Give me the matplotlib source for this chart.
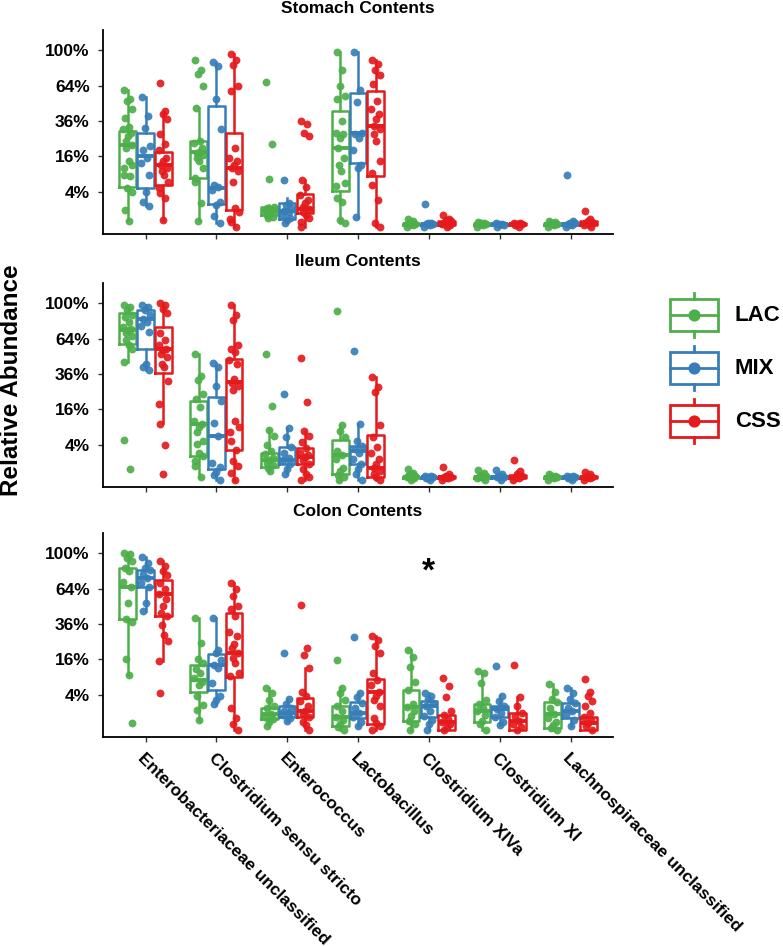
import numpy as np
import matplotlib
matplotlib.use("Agg")
import matplotlib.pyplot as plt
from matplotlib.patches import Rectangle

plt.rcParams['font.family'] = ['Liberation Sans', 'DejaVu Sans']
plt.rcParams['font.weight'] = 'bold'

taxa = ['Enterobacteriaceae unclassified', 'Clostridium sensu stricto', 'Enterococcus',
        'Lactobacillus', 'Clostridium XIVa', 'Clostridium XI', 'Lachnospiraceae unclassified']
groups = ['LAC', 'MIX', 'CSS']
colors = ['#4DAF4A', '#377EB8', '#E41A1C']
panels = ['Stomach Contents', 'Ileum Contents', 'Colon Contents']
yticks = [4, 16, 36, 64, 100]
ytick_labels = ['4%', '16%', '36%', '64%', '100%']

# relative abundance (%) per sample, one list per taxon
stomach_lac = [
    [60.1, 52.4, 51.0, 44.4, 38.3, 32.0, 30.5, 28.4, 26.4, 23.6, 21.4, 20.0, 13.8, 12.4, 11.1, 8.7, 8.2, 4.8, 4.0, 0.9, 0.1],
    [88.9, 78.5, 74.5, 64.0, 45.2, 23.6, 22.7, 20.0, 18.0, 17.6, 16.8, 15.3, 13.8, 11.1, 7.6, 6.6, 1.8, 0.1],
    [67.1, 22.1, 7.4, 1.3, 1.1, 0.9, 0.8, 0.7, 0.6, 0.44, 0.33, 0.23],
    [98, 78.5, 64, 55.2, 52.4, 36, 28.4, 27.4, 25.5, 20.0, 15.3, 12.4, 9.9, 6.1, 5.5, 2.6, 2.0, 0.15, 0.04],
    [0.2, 0.1, 0.05, 0.03, 0.02, 0.01, 0.0],
    [0.08, 0.06, 0.04, 0.03, 0.02, 0.01, 0.0],
    [0.1, 0.07, 0.05, 0.03, 0.02, 0.01, 0.0],
]
stomach_mix = [
    [53.8, 39.5, 31.6, 20.9, 19.2, 15.3, 13.1, 8.7, 4.0, 2.0, 1.4],
    [87.1, 82.6, 52.4, 30.5, 5.7, 5.2, 4.4, 2.0, 1.5, 0.4, 0.04],
    [7.1, 1.8, 1.5, 1.1, 0.8, 0.67, 0.44, 0.26, 0.15, 0.04],
    [98, 60.1, 49.7, 28.4, 27.4, 25.5, 19.2, 12.4, 11.1, 0.33],
    [1.7, 0.06, 0.04, 0.03, 0.02, 0.01, 0.0],
    [0.04, 0.03, 0.02, 0.01, 0.0],
    [8.7, 0.1, 0.06, 0.04, 0.02, 0.01, 0.0],
]
stomach_css = [
    [66.1, 43.2, 40.7, 37.2, 27.8, 21.8, 19.2, 15.3, 13.8, 12.4, 11.1, 9.9, 8.7, 6.6, 4.8, 3.6, 2.6, 0.15],
    [96.2, 88.9, 83.6, 64.0, 59.5, 20.0, 15.3, 13.8, 12.4, 11.1, 9.9, 6.6, 1.1, 0.7, 0.2, 0.08, 0.0],
    [36.0, 34.2, 28.4, 26.4, 7.1, 5.2, 3.3, 2.3, 1.8, 1.3, 1.0, 0.7, 0.44, 0.23, 0.08, 0.0],
    [89.6, 85.3, 78.5, 73.5, 65.5, 51.0, 44.4, 40.7, 37.2, 32.7, 30.5, 27.4, 23.6, 13.8, 9.3, 5.7, 2.3, 0.04, 0.0],
    [0.44, 0.2, 0.15, 0.1, 0.05, 0.03, 0.02, 0.01, 0.0],
    [0.06, 0.04, 0.03, 0.02, 0.01, 0.0],
    [0.84, 0.2, 0.12, 0.08, 0.05, 0.03, 0.01, 0.0],
]
ileum_lac = [
    [98, 95.5, 92.5, 87.2, 85.4, 80.2, 75.2, 72.6, 71.9, 69.4, 66.3, 62.6, 58.2, 55.3, 44.6, 5.1, 0.37],
    [50.6, 34.4, 31.8, 23.8, 21.1, 16.9, 11.3, 10.0, 8.9, 7.3, 4.9, 4.1, 2.4, 1.9, 1.2, 0.64, 0.02],
    [50.6, 17.7, 8.1, 6.3, 4.0, 2.7, 2.1, 1.6, 1.25, 0.97, 0.73, 0.49, 0.26],
    [91.8, 9.5, 7.8, 5.8, 2.7, 2.0, 1.4, 0.49, 0.26, 0.08, 0.03, 0.0],
    [0.37, 0.17, 0.1, 0.06, 0.04, 0.03, 0.02, 0.01, 0.0],
    [0.3, 0.15, 0.08, 0.05, 0.03, 0.02, 0.01, 0.0],
    [0.1, 0.06, 0.04, 0.03, 0.02, 0.01, 0.0],
]
ileum_mix = [
    [98, 96.2, 92.5, 87.2, 83.0, 80.2, 75.9, 70.3, 43.3, 40.9, 38.5],
    [43.9, 40.9, 28.0, 19.9, 10.3, 6.3, 0.97, 0.55, 0.22, 0.08, 0.0],
    [23.8, 8.6, 5.8, 3.4, 2.4, 1.6, 1.25, 0.8, 0.37, 0.13],
    [53.4, 10.0, 4.9, 3.7, 3.0, 2.4, 1.4, 0.8, 0.37, 0.1, 0.0],
    [0.06, 0.04, 0.03, 0.02, 0.01, 0.0],
    [0.3, 0.1, 0.05, 0.03, 0.02, 0.0],
    [0.06, 0.04, 0.03, 0.02, 0.01, 0.0],
]
ileum_css = [
    [100, 98, 93.3, 88.9, 68.8, 62.6, 58.2, 55.3, 53.9, 51.2, 48.5, 43.3, 40.9, 31.3, 18.6, 10.0, 4.0, 0.13],
    [98, 87.2, 81.9, 58.2, 55.3, 52.5, 46.4, 43.3, 32.8, 30.0, 28.0, 26.1, 11.3, 8.9, 7.3, 4.8, 2.9, 1.2, 0.64, 0.17, 0.0],
    [48.0, 19.4, 7.8, 6.3, 4.5, 3.2, 2.4, 2.0, 1.7, 1.25, 0.8, 0.37, 0.13, 0.03, 0.0],
    [34.0, 27.6, 24.7, 9.5, 5.8, 3.4, 2.4, 1.4, 0.8, 0.49, 0.26, 0.1, 0.03, 0.0],
    [0.55, 0.1, 0.05, 0.03, 0.02, 0.01, 0.0],
    [1.25, 0.26, 0.1, 0.05, 0.03, 0.01, 0.0],
    [0.22, 0.1, 0.05, 0.03, 0.02, 0.01, 0.0],
]
colon_lac = [
    [100, 98.8, 95.1, 91.5, 84.4, 80.9, 70.1, 65.7, 51.8, 39.1, 37.2, 16.1, 9.8, 0.17],
    [39.8, 24.2, 16.1, 14.3, 11.9, 10.4, 8.6, 7.5, 6.5, 3.6, 2.0, 1.3, 0.32],
    [5.6, 4.3, 2.9, 1.8, 1.5, 0.83, 0.57, 0.37, 0.2, 0.05],
    [15.5, 5.6, 4.3, 2.9, 1.8, 1.1, 0.57, 0.32, 0.12, 0.02, 0.0],
    [20.3, 17.0, 12.7, 7.5, 5.0, 2.2, 1.66, 1.1, 0.6, 0.28, 0.1, 0.0],
    [11.0, 10.4, 7.2, 2.9, 2.2, 1.6, 1.1, 0.73, 0.28, 0.1, 0.0],
    [6.8, 4.5, 3.0, 2.5, 1.5, 0.83, 0.44, 0.22, 0.08, 0.01, 0.0],
]
colon_mix = [
    [96.2, 89.7, 84.4, 81.9, 77.6, 73.6, 69.4, 65.7, 51.8, 45.2],
    [39.8, 20.7, 19.0, 15.8, 13.4, 12.3, 7.0, 3.6, 2.9, 2.2],
    [19.0, 3.0, 2.2, 1.5, 1.2, 0.97, 0.75, 0.44, 0.28],
    [27.7, 4.3, 3.5, 2.3, 1.5, 0.9, 0.57, 0.22, 0.04],
    [4.3, 3.6, 3.0, 2.3, 1.9, 1.1, 0.6, 0.32, 0.1, 0.0],
    [13.2, 3.6, 2.6, 1.8, 1.4, 0.9, 0.52, 0.22, 0.08],
    [5.6, 4.3, 3.0, 2.4, 1.6, 1.2, 0.7, 0.32, 0.04],
]
colon_css = [
    [91.5, 86.1, 80.9, 76.6, 69.4, 63.3, 58.8, 54.6, 49.1, 43.9, 41.5, 35.6, 29.1, 25.2, 15.1, 4.3],
    [69.4, 63.9, 57.4, 49.6, 46.5, 41.5, 30.6, 28.1, 23.9, 21.5, 19.0, 16.6, 14.3, 10.4, 9.2, 1.5, 0.44, 0.12, 0.0],
    [50.4, 21.5, 18.2, 12.3, 4.5, 3.7, 2.6, 1.8, 1.2, 0.8, 0.52, 0.2, 0.08, 0.0],
    [28.5, 26.1, 22.4, 19.0, 10.4, 8.1, 6.5, 4.6, 3.7, 2.9, 1.8, 0.44, 0.17, 0.04, 0.0],
    [8.6, 6.1, 3.4, 1.2, 0.73, 0.4, 0.22, 0.12, 0.03, 0.0],
    [13.6, 3.4, 1.9, 0.9, 0.6, 0.28, 0.12, 0.02, 0.0],
    [8.3, 4.7, 3.7, 2.6, 1.9, 0.9, 0.52, 0.3, 0.17, 0.05, 0.0],
]

# box summaries (whisker low, q1, median, q3, whisker high)
stomach_lac_box = [(0.1, 5.2, 21.4, 29.5, 60.1), (0.1, 7.6, 18.0, 23.6, 45.2), (0.23, 0.44, 0.8, 1.3, 1.6),
                   (0.04, 4.2, 20.0, 43.2, 98), (0, 0.01, 0.03, 0.05, 0.1), (0, 0.01, 0.03, 0.05, 0.08),
                   (0, 0.01, 0.03, 0.05, 0.1)]
stomach_mix_box = [(1.4, 4.8, 16.0, 28.4, 53.8), (0.04, 1.7, 4.8, 47.0, 87.1), (0.04, 0.19, 0.8, 1.8, 2.6),
                   (0.33, 13.1, 28.4, 57.2, 98), (0, 0.01, 0.02, 0.04, 0.06), (0, 0.01, 0.02, 0.03, 0.04),
                   (0, 0.01, 0.03, 0.05, 0.1)]
stomach_css_box = [(0.15, 5.7, 12.4, 17.9, 43.2), (0, 0.9, 11.1, 28.0, 96.2), (0, 0.58, 1.0, 3.4, 7.1),
                   (0, 8.2, 32.7, 59.5, 89.6), (0, 0.01, 0.03, 0.1, 0.2), (0, 0.01, 0.02, 0.04, 0.06),
                   (0, 0.01, 0.04, 0.1, 0.2)]
ileum_lac_box = [(44.6, 58.8, 71.9, 88.9, 98), (0.02, 1.9, 10.0, 20.2, 50.6), (0.26, 0.55, 1.25, 2.4, 8.1),
                 (0, 0.13, 2.0, 5.1, 9.5), (0, 0.01, 0.03, 0.06, 0.17), (0, 0.01, 0.03, 0.06, 0.15),
                 (0, 0.01, 0.02, 0.04, 0.08)]
ileum_mix_box = [(38.5, 54.8, 83.0, 92.5, 98), (0, 0.37, 6.3, 22.0, 43.9), (0.13, 0.8, 1.25, 3.5, 8.6),
                 (0, 0.8, 2.7, 3.7, 10.0), (0, 0.01, 0.02, 0.03, 0.06), (0, 0.01, 0.03, 0.05, 0.1),
                 (0, 0.01, 0.02, 0.03, 0.06)]
ileum_css_box = [(10.3, 36.6, 54.8, 74.5, 100), (0, 2.9, 30.7, 47.2, 98), (0, 0.8, 1.7, 3.2, 7.8),
                 (0, 0.03, 0.49, 6.5, 34.0), (0, 0.01, 0.02, 0.05, 0.1), (0, 0.01, 0.03, 0.08, 0.26),
                 (0, 0.01, 0.03, 0.06, 0.12)]
colon_lac_box = [(9.8, 39.1, 65.7, 84.4, 100), (0.32, 4.5, 8.1, 13.4, 39.8), (0.05, 0.37, 0.83, 1.5, 5.6),
                 (0, 0.05, 0.57, 1.8, 5.6), (0, 0.28, 1.66, 5.0, 20.3), (0, 0.22, 1.1, 2.2, 10.4),
                 (0, 0.01, 0.83, 2.5, 6.8)]
colon_mix_box = [(45.2, 65.7, 73.6, 81.9, 96.2), (2.2, 5.2, 13.4, 18.5, 39.8), (0.28, 0.57, 0.97, 1.8, 3.0),
                 (0.04, 0.44, 0.9, 2.5, 4.3), (0, 0.57, 1.9, 2.7, 4.3), (0.08, 0.52, 1.4, 1.8, 3.6),
                 (0.04, 0.44, 1.2, 2.4, 5.6)]
colon_css_box = [(15.1, 41.5, 58.8, 72.0, 91.5), (0, 9.0, 19.0, 43.9, 69.4), (0, 0.52, 1.2, 3.2, 12.3),
                 (0, 0.12, 4.5, 8.3, 28.5), (0, 0, 0.22, 0.73, 0.73), (0, 0, 0.28, 0.9, 3.4),
                 (0, 0, 0.17, 0.52, 0.52)]

panel_points = [(stomach_lac, stomach_mix, stomach_css),
                (ileum_lac, ileum_mix, ileum_css),
                (colon_lac, colon_mix, colon_css)]
panel_boxes = [(stomach_lac_box, stomach_mix_box, stomach_css_box),
               (ileum_lac_box, ileum_mix_box, ileum_css_box),
               (colon_lac_box, colon_mix_box, colon_css_box)]

jitter = [-0.05, 0.03, -0.01, 0.06, -0.04, 0.02, -0.065, 0.045, 0.0, -0.03, 0.055, -0.02, 0.01, 0.065, -0.055]
dodge = [-0.25, 0.0, 0.25]


def fwd(v):
    return np.sign(v) * np.sqrt(np.abs(v))


def inv(v):
    return np.sign(v) * v ** 2


W, H = 783, 946
fig = plt.figure(figsize=(W / 100, H / 100), dpi=100)
tops = [30, 283, 533]
ax_h = 204
x = np.arange(1, len(taxa) + 1)

for p, top in enumerate(tops):
    ax = fig.add_axes([103 / W, 1 - (top + ax_h) / H, 510 / W, ax_h / H])
    ax.set_yscale('function', functions=(fwd, inv))
    for g in range(3):
        col = colors[g]
        stats = []
        for lo, q1, med, q3, hi in panel_boxes[p][g]:
            stats.append(dict(whislo=lo, q1=q1, med=med, q3=q3, whishi=hi))
        ax.bxp(stats, positions=x + dodge[g], widths=0.235, showfliers=False, showcaps=False,
               boxprops=dict(color=col, linewidth=1.8),
               whiskerprops=dict(color=col, linewidth=1.8),
               medianprops=dict(color=col, linewidth=2.8),
               manage_ticks=False, zorder=2)
        for t, vals in enumerate(panel_points[p][g]):
            xs = [x[t] + dodge[g] + jitter[k % len(jitter)] for k in range(len(vals))]
            ax.scatter(xs, vals, s=32, color=col, alpha=0.92, linewidths=0, zorder=3)
    ax.set_xlim(0.4, 7.6)
    ax.set_ylim(-0.16, 124.3)
    ax.set_yticks(yticks)
    ax.set_yticklabels(ytick_labels, fontsize=12.5, fontweight='bold')
    ax.set_xticks(x)
    if p == 2:
        ax.set_xticklabels(taxa, rotation=-45, ha='left', va='top', rotation_mode='anchor',
                           fontsize=12.4, fontweight='bold')
    else:
        ax.set_xticklabels([])
    ax.tick_params(axis='both', length=3.5, width=1, color='#333333', pad=6)
    for s in ['top', 'right']:
        ax.spines[s].set_visible(False)
    for s in ['left', 'bottom']:
        ax.spines[s].set_linewidth(1.3)
    ax.set_title(panels[p], fontsize=12.5, fontweight='bold', pad=12)
    if p == 2:
        ax.text(5, 80, '*', ha='center', va='center', fontsize=24, fontweight='bold')

fig.text(12 / W, 1 - 380 / H, 'Relative Abundance', rotation=90, ha='center', va='center',
         fontsize=17.5, fontweight='bold')

# legend drawn in pixel coordinates
lg = fig.add_axes([660 / W, 1 - 450 / H, 123 / W, 170 / H])
lg.set_xlim(660, 783)
lg.set_ylim(450, 280)
lg.axis('off')
centers = [315, 368, 421]
for g in range(3):
    c = centers[g]
    col = colors[g]
    lg.add_patch(Rectangle((670, c - 16), 48, 32, fill=False, edgecolor=col, linewidth=2))
    lg.plot([694, 694], [c - 22, c - 16], color=col, linewidth=2)
    lg.plot([694, 694], [c + 16, c + 22], color=col, linewidth=2)
    lg.plot([670, 718], [c, c], color=col, linewidth=2)
    lg.scatter([694], [c], s=60, color=col, zorder=3)
    lg.text(735, c, groups[g], ha='left', va='center', fontsize=16, fontweight='bold')

fig.savefig('out.png', dpi=100)
